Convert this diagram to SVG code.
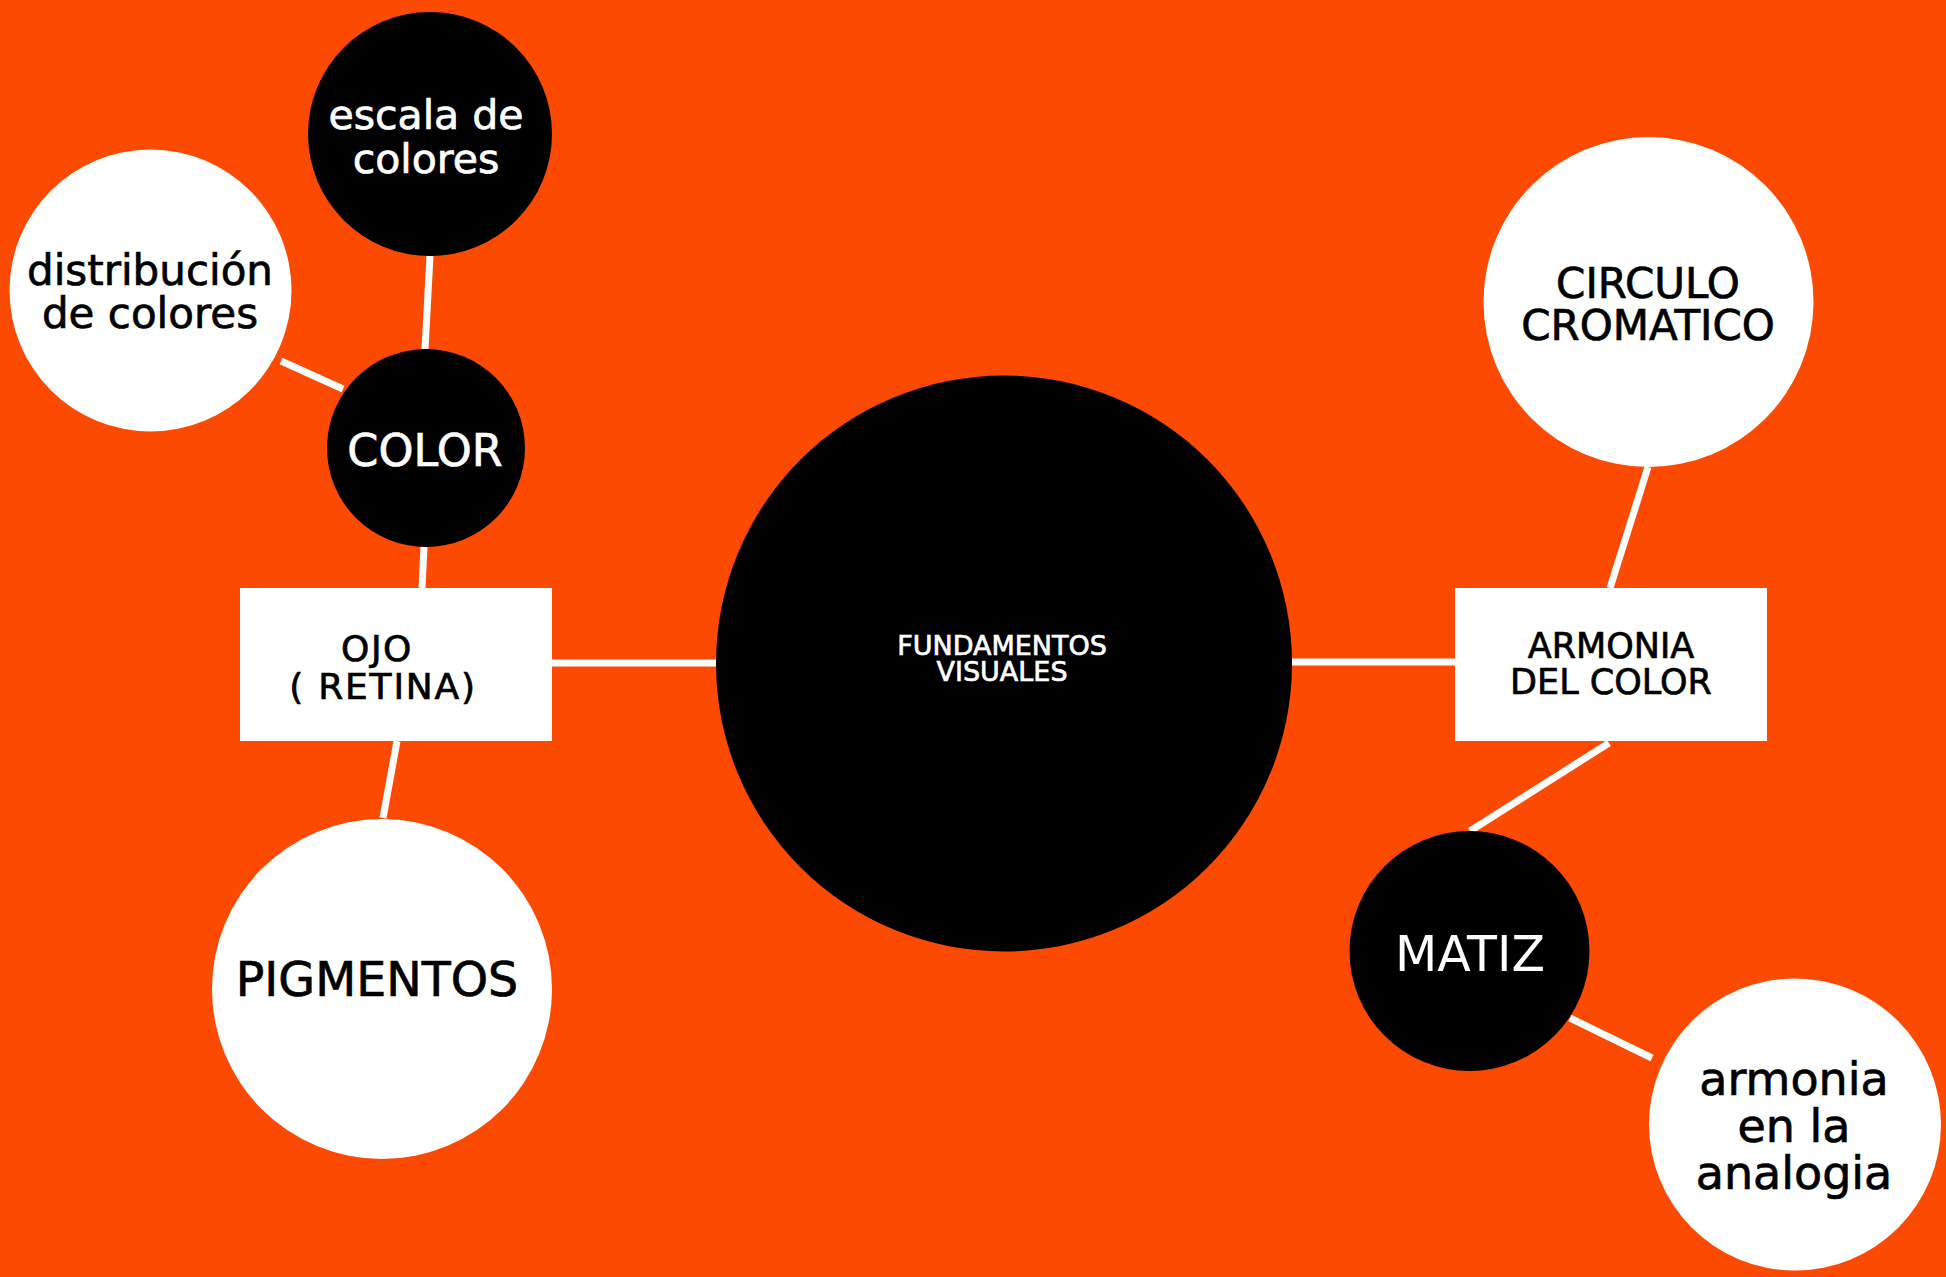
<svg xmlns="http://www.w3.org/2000/svg" width="1946" height="1277" viewBox="0 0 1946 1277">
<style>
.bg{fill:#FC4A03}
.blk{fill:#000}
.wht{fill:#fff}
.conn line{stroke:#fff;stroke-width:7;stroke-linecap:butt}
text{font-family:"DejaVu Sans","Liberation Sans",sans-serif;text-anchor:middle}
.tw{fill:#fff;stroke:#fff;stroke-width:0.7}
.tb{fill:#000;stroke:#000;stroke-width:0.7}
.thin{stroke-width:0}
</style>
<rect class="bg" x="0" y="0" width="1946" height="1277"/>
<g id="connectors" class="conn">
<line x1="430" y1="256" x2="425" y2="349"/>
<line x1="281" y1="361" x2="343" y2="389"/>
<line x1="424" y1="547" x2="422" y2="588"/>
<line x1="397" y1="741" x2="383" y2="818"/>
<line x1="552" y1="663" x2="716" y2="663"/>
<line x1="1292" y1="662" x2="1455" y2="662"/>
<line x1="1648" y1="467" x2="1610" y2="588"/>
<line x1="1609" y1="743" x2="1470" y2="831"/>
<line x1="1570" y1="1018" x2="1652" y2="1058"/>
</g>
<g id="fundamentos">
<circle class="blk" cx="1004" cy="663.5" r="288"/>
<text class="tw" font-size="27"><tspan x="1002" y="655">FUNDAMENTOS</tspan><tspan x="1002" y="681">VISUALES</tspan></text>
</g>
<g id="ojo">
<rect class="wht" x="240" y="588" width="312" height="153"/>
<text class="tb" font-size="36"><tspan x="377" y="661" letter-spacing="1.5">OJO</tspan><tspan x="383" y="699" letter-spacing="1.8">( RETINA)</tspan></text>
</g>
<g id="color">
<circle class="blk" cx="426" cy="448" r="99"/>
<text class="tw" x="425" y="466" font-size="44.5">COLOR</text>
</g>
<g id="escala">
<circle class="blk" cx="430" cy="134" r="122"/>
<text class="tw" font-size="41"><tspan x="426" y="129">escala de</tspan><tspan x="426" y="173">colores</tspan></text>
</g>
<g id="distribucion">
<circle class="wht" cx="150.5" cy="290.5" r="141"/>
<text class="tb" font-size="42"><tspan x="150" y="285">distribución</tspan><tspan x="150" y="328">de colores</tspan></text>
</g>
<g id="pigmentos">
<circle class="wht" cx="382" cy="989" r="170"/>
<text class="tb" x="377" y="996" font-size="47.5">PIGMENTOS</text>
</g>
<g id="armonia-del-color">
<rect class="wht" x="1455" y="588" width="312" height="153"/>
<text class="tb" font-size="35"><tspan x="1611" y="658">ARMONIA</tspan><tspan x="1611" y="694">DEL COLOR</tspan></text>
</g>
<g id="circulo">
<circle class="wht" cx="1648.5" cy="302" r="165"/>
<text class="tb" font-size="42"><tspan x="1648" y="298">CIRCULO</tspan><tspan x="1648" y="340">CROMATICO</tspan></text>
</g>
<g id="matiz">
<circle class="blk" cx="1469.5" cy="951" r="120"/>
<text class="tw thin" x="1470" y="971" font-size="49">MATIZ</text>
</g>
<g id="armonia-analogia">
<circle class="wht" cx="1795" cy="1124.5" r="146"/>
<text class="tb" font-size="46"><tspan x="1794" y="1095">armonia</tspan><tspan x="1794" y="1142">en la</tspan><tspan x="1794" y="1189">analogia</tspan></text>
</g>
</svg>
